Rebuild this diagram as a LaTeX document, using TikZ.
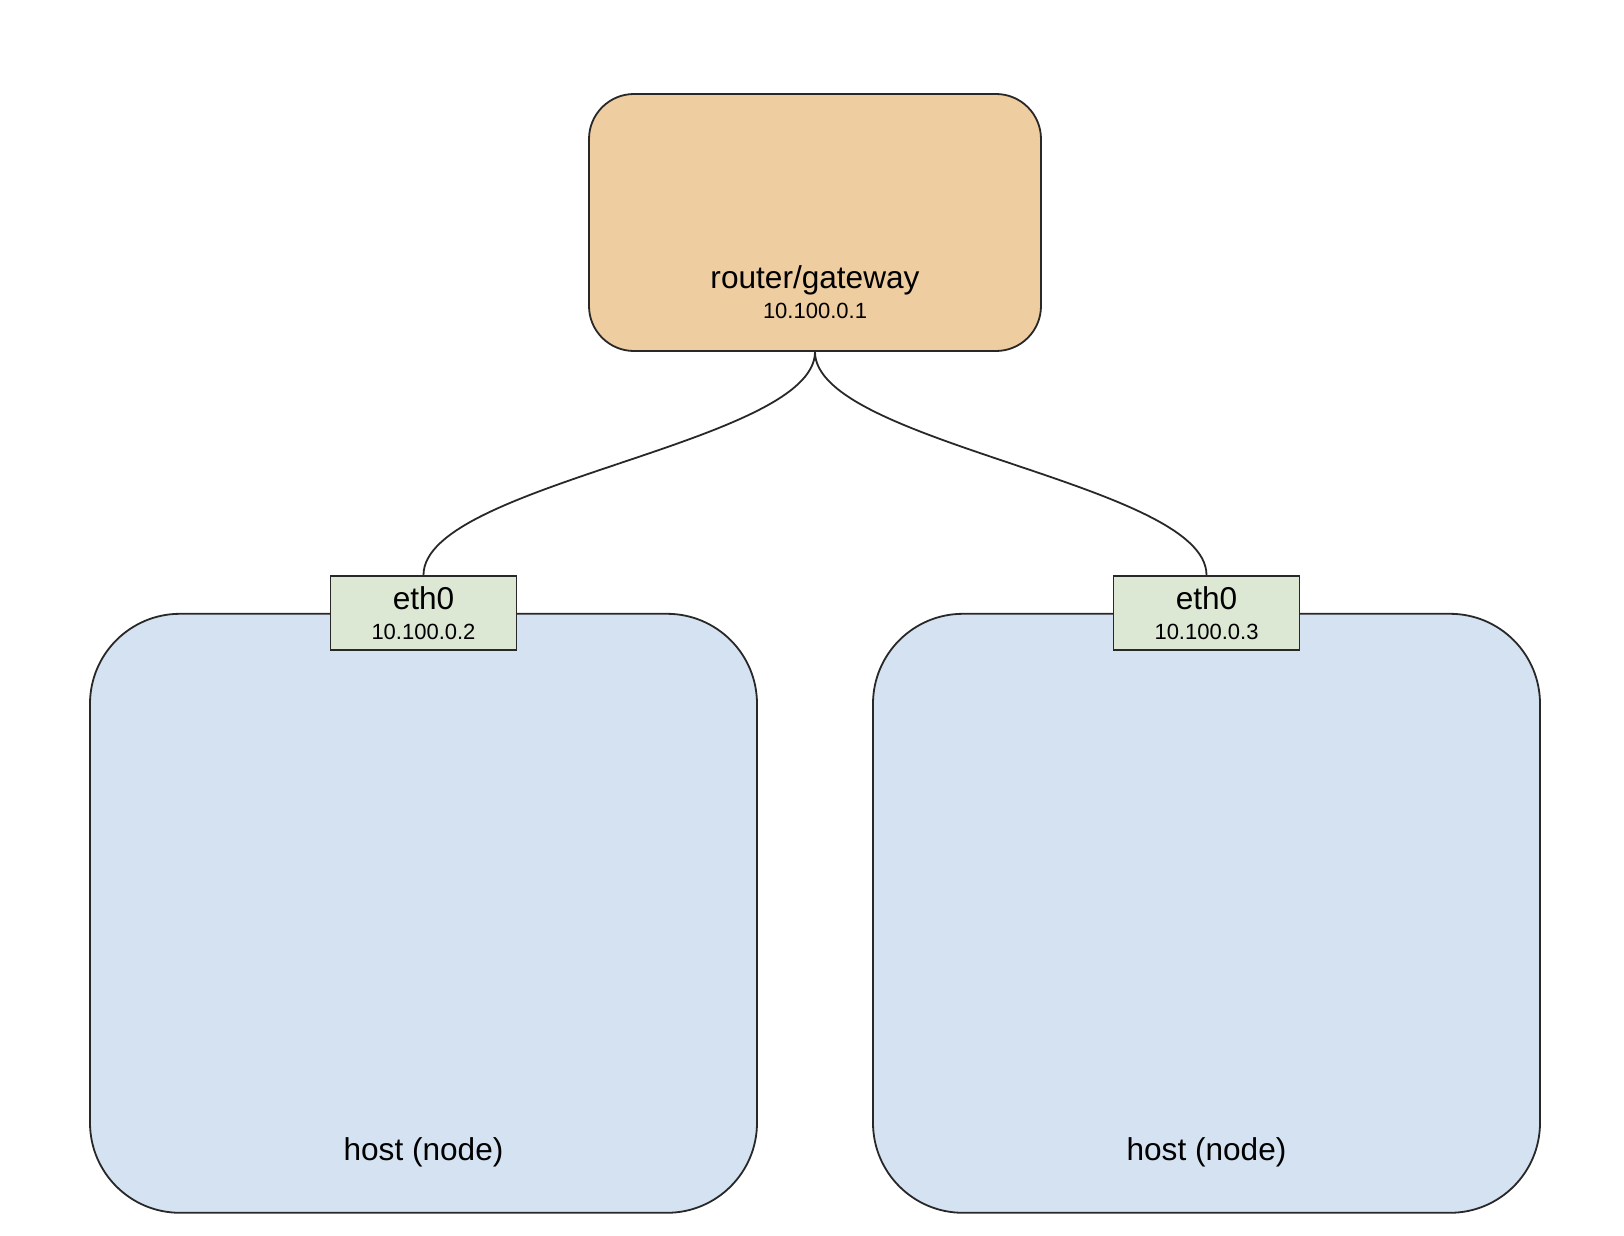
\documentclass[tikz,border=0pt]{standalone}
\usepackage{fontspec}
\setmainfont{Liberation Sans}
\usepackage{tikz}
\usetikzlibrary{positioning}
\definecolor{routerlight}{RGB}{238,205,160}
\definecolor{hostlight}{RGB}{212,226,241}
\definecolor{ethlight}{RGB}{221,232,212}
\definecolor{linegray}{RGB}{40,40,40}
\newcommand{\bigtext}{\fontsize{15.8}{14.8}\selectfont}
\newcommand{\iptext}{\fontsize{11}{13}\selectfont}
\tikzset{
  box/.style={rectangle, draw=linegray, line width=0.9pt, inner sep=0pt},
  routerbox/.style={box, rounded corners=22.5pt, fill=routerlight,
    minimum width=226pt, minimum height=128.5pt},
  hostbox/.style={box, rounded corners=45pt, fill=hostlight,
    minimum width=333.5pt, minimum height=299.5pt},
  ethbox/.style={box, fill=ethlight, minimum width=93pt, minimum height=37pt,
    align=center, font=\bigtext},
  boxlabel/.style={inner sep=0pt, align=center, font=\bigtext},
  link/.style={line width=0.9pt, color=linegray, out=-90, in=90, looseness=0.52},
}

\begin{document}
\begin{tikzpicture}[node distance=130.5pt]
  \useasboundingbox (0,0) rectangle (812pt,-618pt);
  \node[routerbox] (router) at (407.5pt,-111.25pt) {};
  \node[boxlabel, above=16.5pt of router.south] (routerlbl) {router/gateway\\ \iptext 10.100.0.1};
  \node[hostbox, below=of router, xshift=-195.75pt] (host1) {};
  \node[hostbox, below=of router, xshift=195.75pt] (host2) {};
  \node[boxlabel, anchor=base] (hostlbl1) at ([yshift=26.5pt]host1.south) {host (node)};
  \node[boxlabel, anchor=base] (hostlbl2) at ([yshift=26.5pt]host2.south) {host (node)};
  \node[ethbox] (eth1) at (host1.north) {eth0\\ \iptext 10.100.0.2};
  \node[ethbox] (eth2) at (host2.north) {eth0\\ \iptext 10.100.0.3};
  \draw[link] (router.south) to (eth1.north);
  \draw[link] (router.south) to (eth2.north);
\end{tikzpicture}
\end{document}
